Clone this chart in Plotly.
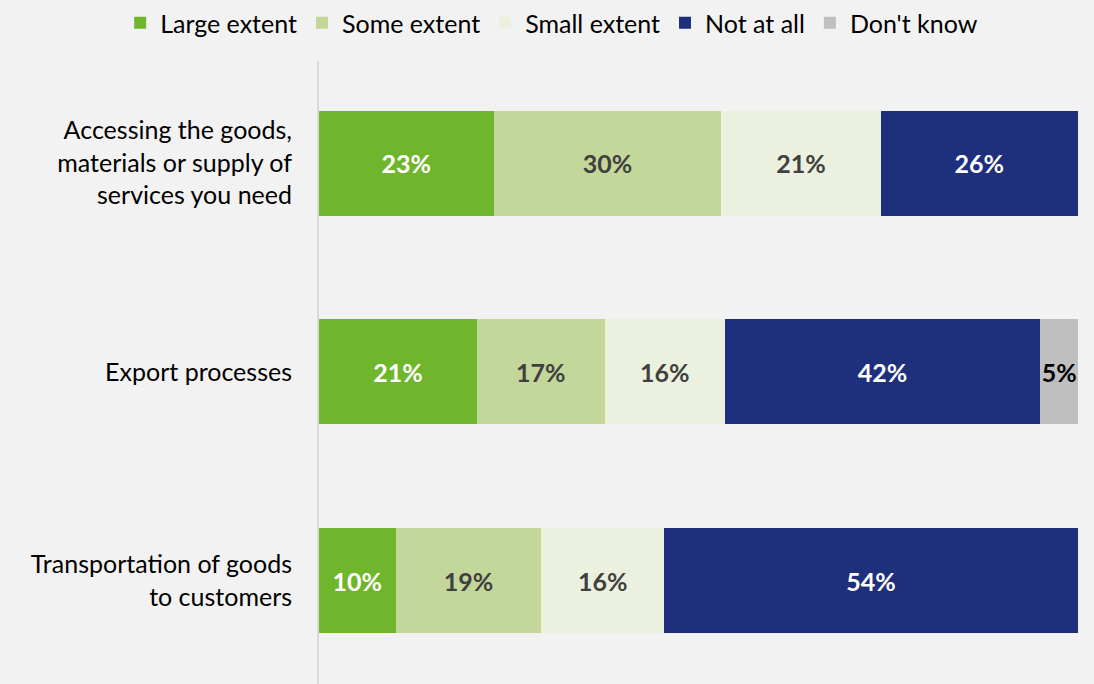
import plotly.graph_objects as go

# Survey responses: extent to which each area has been affected
categories = [
    "Accessing the goods,<br>materials or supply of<br>services you need",
    "Export processes",
    "Transportation of goods<br>to customers",
]
series_names = ["Large extent", "Some extent", "Small extent", "Not at all", "Don't know"]
large_extent = [23, 21, 10]
some_extent = [30, 17, 19]
small_extent = [21, 16, 16]
not_at_all = [26, 42, 54]
dont_know = [0, 5, 0]

values = [large_extent, some_extent, small_extent, not_at_all, dont_know]
colors = ["#70b62c", "#c4d79b", "#ebf1de", "#1e2f7b", "#bfbfbf"]
text_colors = ["#ffffff", "#404040", "#404040", "#ffffff", "#000000"]

FONT = "Lato"

fig = go.Figure()
for name, vals, col, tcol in zip(series_names, values, colors, text_colors):
    fig.add_trace(go.Bar(
        name=name,
        y=categories,
        x=vals,
        orientation="h",
        marker=dict(color=col, line=dict(width=0)),
        text=[f"{v}%" if v else "" for v in vals],
        textposition="inside",
        insidetextanchor="middle",
        textangle=0,
        textfont=dict(family=FONT, size=25, color=tcol, weight="bold"),
        hoverinfo="skip",
    ))

fig.update_layout(
    barmode="stack",
    barnorm="percent",
    bargap=0.497,
    width=1094,
    height=684,
    paper_bgcolor="#f2f2f2",
    plot_bgcolor="#f2f2f2",
    margin=dict(l=319, r=16, t=60, b=0),
    font=dict(family=FONT, size=25, color="#000000"),
    uniformtext=dict(minsize=25, mode="show"),
    showlegend=True,
    legend=dict(
        orientation="h",
        xref="paper",
        x=-0.262, xanchor="left",
        yref="paper",
        y=1.061, yanchor="middle",
        font=dict(family=FONT, size=25, color="#000000"),
        traceorder="normal",
        itemclick=False,
        itemwidth=30,
        bgcolor="rgba(0,0,0,0)",
    ),
    xaxis=dict(
        range=[0, 100],
        visible=False,
        fixedrange=True,
    ),
    yaxis=dict(
        range=[2.496, -0.49],
        showline=True,
        linecolor="#d9d9d9",
        linewidth=2,
        showgrid=False,
        zeroline=False,
        ticks="",
        ticklabelstandoff=20,
        tickfont=dict(family=FONT, size=25, color="#000000"),
        fixedrange=True,
    ),
)

fig.write_html("out.html")
